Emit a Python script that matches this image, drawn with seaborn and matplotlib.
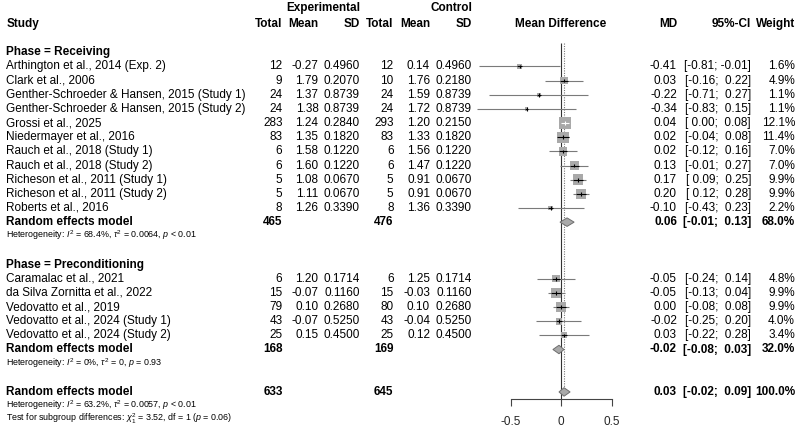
import numpy as np
import pandas as pd
import matplotlib
matplotlib.use("Agg")
import matplotlib.pyplot as plt
import seaborn as sns

# ---- data ----
phase_names = ["Receiving", "Preconditioning"]

study = ["Arthington et al., 2014 (Exp. 2)", "Clark et al., 2006",
         "Genther-Schroeder & Hansen, 2015 (Study 1)",
         "Genther-Schroeder & Hansen, 2015 (Study 2)",
         "Grossi et al., 2025", "Niedermayer et al., 2016",
         "Rauch et al., 2018 (Study 1)", "Rauch et al., 2018 (Study 2)",
         "Richeson et al., 2011 (Study 1)", "Richeson et al., 2011 (Study 2)",
         "Roberts et al., 2016",
         "Caramalac et al., 2021", "da Silva Zornitta et al., 2022",
         "Vedovatto et al., 2019", "Vedovatto et al., 2024 (Study 1)",
         "Vedovatto et al., 2024 (Study 2)"]
phase = ["Receiving"] * 11 + ["Preconditioning"] * 5
n_e = [12, 9, 24, 24, 283, 83, 6, 6, 5, 5, 8, 6, 15, 79, 43, 25]
mean_e = [-0.27, 1.79, 1.37, 1.38, 1.24, 1.35, 1.58, 1.60, 1.08, 1.11, 1.26,
          1.20, -0.07, 0.10, -0.07, 0.15]
sd_e = [0.4960, 0.2070, 0.8739, 0.8739, 0.2840, 0.1820, 0.1220, 0.1220,
        0.0670, 0.0670, 0.3390, 0.1714, 0.1160, 0.2680, 0.5250, 0.4500]
n_c = [12, 10, 24, 24, 293, 83, 6, 6, 5, 5, 8, 6, 15, 80, 43, 25]
mean_c = [0.14, 1.76, 1.59, 1.72, 1.20, 1.33, 1.56, 1.47, 0.91, 0.91, 1.36,
          1.25, -0.03, 0.10, -0.04, 0.12]
sd_c = [0.4960, 0.2180, 0.8739, 0.8739, 0.2150, 0.1820, 0.1220, 0.1220,
        0.0670, 0.0670, 0.3390, 0.1714, 0.1160, 0.2680, 0.5250, 0.4500]
md = [-0.41, 0.03, -0.22, -0.34, 0.04, 0.02, 0.02, 0.13, 0.17, 0.20, -0.10,
      -0.05, -0.05, 0.00, -0.02, 0.03]
ci_lo = [-0.81, -0.16, -0.71, -0.83, 0.00, -0.04, -0.12, -0.01, 0.09, 0.12, -0.43,
         -0.24, -0.13, -0.08, -0.25, -0.22]
ci_hi = [-0.01, 0.22, 0.27, 0.15, 0.08, 0.08, 0.16, 0.27, 0.25, 0.28, 0.23,
         0.14, 0.04, 0.08, 0.20, 0.28]
weight = [1.6, 4.9, 1.1, 1.1, 12.1, 11.4, 7.0, 7.0, 9.9, 9.9, 2.2,
          4.8, 9.9, 9.9, 4.0, 3.4]

sub_ne = [465, 168]
sub_nc = [476, 169]
sub_md = [0.06, -0.02]
sub_lo = [-0.01, -0.08]
sub_hi = [0.13, 0.03]
sub_w = [68.0, 32.0]
sub_het = [r"Heterogeneity: $I^2$ = 68.4%, $\tau^2$ = 0.0064, $p$ < 0.01",
           r"Heterogeneity: $I^2$ = 0%, $\tau^2$ = 0, $p$ = 0.93"]

all_ne, all_nc = 633, 645
all_md, all_lo, all_hi, all_w = 0.03, -0.02, 0.09, 100.0
all_het = r"Heterogeneity: $I^2$ = 63.2%, $\tau^2$ = 0.0057, $p$ < 0.01"
sub_test = r"Test for subgroup differences: $\chi^2_1$ = 3.52, df = 1 ($p$ = 0.06)"

# ---- layout (pixels) ----
W, H = 800, 433
row0, row_h = 66.5, 14.15          # pixel y of first study row, row height
zero_px, unit_px = 561, 101        # x pixel of MD = 0, pixels per MD unit
col = dict(ne=282.5, me=318.5, se=360, nc=393.5, mc=430, sc=472,
           md=677, ci=751, w=795)

sns.set_theme(style="white")
plt.rcParams["font.family"] = ["Liberation Sans", "DejaVu Sans"]
plt.rcParams["mathtext.fontset"] = "custom"
plt.rcParams["mathtext.rm"] = "Liberation Sans"
plt.rcParams["mathtext.it"] = "Liberation Sans:italic"
plt.rcParams["mathtext.bf"] = "Liberation Sans:bold"

FS, FS_SMALL = 8.5, 6.4
SQ_COL, LINE_COL = "#A9A9A9", "#7A7A7A"

fig = plt.figure(figsize=(W / 100, H / 100), dpi=100)
ylim = ((H - row0) / row_h, -row0 / row_h)

tax = fig.add_axes([0, 0, 1, 1])
tax.set_xlim(0, W)
tax.set_ylim(*ylim)
tax.axis("off")

fax = fig.add_axes([440 / W, 0, 200 / W, 1])
fax.set_xlim((440 - zero_px) / unit_px, (640 - zero_px) / unit_px)
fax.patch.set_alpha(0)


def txt(x, r, s, ha="right", bold=False, size=FS):
    tax.text(x, r, s, ha=ha, va="center", fontsize=size,
             fontweight="bold" if bold else "normal", color="black")


def ci_str(lo, hi):
    return "[%5s; %5s]" % ("%.2f" % lo, "%.2f" % hi)


# headers
txt(col["se"], -4.1, "Experimental", bold=True)
txt(col["sc"], -4.1, "Control", bold=True)
txt(6.5, -3, "Study", ha="left", bold=True)
for k, lab in [("ne", "Total"), ("me", "Mean"), ("se", "SD"), ("nc", "Total"),
               ("mc", "Mean"), ("sc", "SD"), ("md", "MD"), ("ci", "95%-CI"),
               ("w", "Weight")]:
    txt(col[k], -3, lab, bold=True)
txt(zero_px, -3, "Mean Difference", ha="center", bold=True)

# assign rows
rows = []
sub_rows = []
phase_rows = []
r = -1
for g, ph in enumerate(phase_names):
    phase_rows.append(r)
    r += 1
    for i in range(len(study)):
        if phase[i] == ph:
            rows.append(r)
            r += 1
    sub_rows.append(r)
    r += 3
all_row = r

df = pd.DataFrame(dict(study=study, row=rows, md=md, lo=ci_lo, hi=ci_hi,
                       weight=weight))

for g, ph in enumerate(phase_names):
    txt(6.5, phase_rows[g], "Phase = " + ph, ha="left", bold=True)
for i, s in enumerate(study):
    rr = rows[i]
    txt(6.5, rr, s, ha="left")
    txt(col["ne"], rr, str(n_e[i]))
    txt(col["me"], rr, "%.2f" % mean_e[i])
    txt(col["se"], rr, "%.4f" % sd_e[i])
    txt(col["nc"], rr, str(n_c[i]))
    txt(col["mc"], rr, "%.2f" % mean_c[i])
    txt(col["sc"], rr, "%.4f" % sd_c[i])
    txt(col["md"], rr, "%.2f" % md[i])
    txt(col["ci"], rr, ci_str(ci_lo[i], ci_hi[i]))
    txt(col["w"], rr, "%.1f%%" % weight[i])

summ = [(sub_rows[g], sub_ne[g], sub_nc[g], sub_md[g], sub_lo[g], sub_hi[g],
         sub_w[g], [sub_het[g]]) for g in range(2)]
summ.append((all_row, all_ne, all_nc, all_md, all_lo, all_hi, all_w,
             [all_het, sub_test]))
for rr, ne, nc, m, lo, hi, w, notes in summ:
    txt(6.5, rr, "Random effects model", ha="left", bold=True)
    txt(col["ne"], rr, str(ne), bold=True)
    txt(col["nc"], rr, str(nc), bold=True)
    txt(col["md"], rr, "%.2f" % m, bold=True)
    txt(col["ci"], rr, ci_str(lo, hi), bold=True)
    txt(col["w"], rr, "%.1f%%" % w, bold=True)
    for j, n in enumerate(notes):
        txt(6.5, rr + 0.95 + 0.95 * j, n, ha="left", size=FS_SMALL)
    # diamond
    h = 0.3
    fax.fill([lo, m, hi, m], [rr, rr - h, rr, rr + h], facecolor=SQ_COL,
             edgecolor="#6E6E6E", linewidth=0.7, zorder=4)

# reference lines
axis_row = all_row + 0.5
fax.vlines(0, -1.66, axis_row, color="#333333", linewidth=0.8, zorder=1)
fax.vlines(all_md, -1.66, all_row, color="#777777", linewidth=0.8,
           linestyles=(0, (1, 1.2)), zorder=1)

# CI lines, squares, inner marks
fax.hlines(df["row"], df["lo"], df["hi"], color=LINE_COL, linewidth=0.8, zorder=2)
wmax = max(weight)
side_max_px = 11.7
sns.scatterplot(data=df, x="md", y="row", size="weight",
                sizes=(0, (side_max_px * 0.72) ** 2), size_norm=(0, wmax),
                marker="s", color=SQ_COL, linewidth=0, legend=False,
                ax=fax, zorder=3)
half = side_max_px * np.sqrt(df["weight"] / wmax) / 2 / unit_px
inside = (df["lo"] >= df["md"] - half) & (df["hi"] <= df["md"] + half)
inner_col = np.where(inside, "white", "black")
fax.hlines(df["row"], np.maximum(df["lo"], df["md"] - half),
           np.minimum(df["hi"], df["md"] + half), colors=inner_col,
           linewidth=0.8, zorder=5)
fax.vlines(df["md"], df["row"] - 0.13, df["row"] + 0.13, colors=inner_col,
           linewidth=0.8, zorder=5)

fax.set_ylim(*ylim)
fax.set_xlim((440 - zero_px) / unit_px, (640 - zero_px) / unit_px)
fax.set_xlabel("")
fax.set_ylabel("")
fax.set_yticks([])
for sp in ["top", "left", "right"]:
    fax.spines[sp].set_visible(False)
fax.spines["bottom"].set_position(("data", axis_row))
fax.spines["bottom"].set_bounds(-0.5, 0.5)
fax.spines["bottom"].set_color("#444444")
fax.spines["bottom"].set_linewidth(0.8)
fax.set_xticks([-0.5, 0, 0.5])
fax.set_xticklabels(["-0.5", "0", "0.5"])
fax.tick_params(axis="x", bottom=True, direction="out", length=5, width=0.8,
                color="#444444", pad=7, labelsize=FS)

fig.savefig("out.png", dpi=100)
